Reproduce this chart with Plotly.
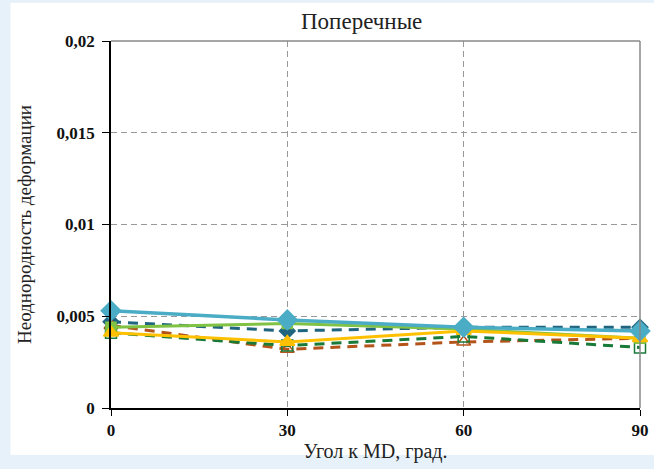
import plotly.graph_objects as go

angles = [0, 30, 60, 90]
blue_solid = [0.0053, 0.0048, 0.0044, 0.0042]
teal_dash = [0.0047, 0.0042, 0.0044, 0.0044]
lgreen_solid = [0.0044, 0.0046, 0.0043, 0.0038]
dgreen_dash = [0.0041, 0.0034, 0.0039, 0.0033]
brown_dash = [0.0045, 0.0032, 0.0036, 0.0038]
yellow_solid = [0.0041, 0.0036, 0.0042, 0.0038]

y_ticks = [0, 0.005, 0.01, 0.015, 0.02]
y_ticklabels = ["0", "0,005", "0,01", "0,015", "0,02"]
x_ticks = [0, 30, 60, 90]

fig = go.Figure()

def add(y, color, dash, symbol, size, name, lw=3, fill=None):
    fig.add_trace(go.Scatter(
        x=angles, y=y, mode="lines+markers", name=name,
        line=dict(color=color, width=lw, dash=dash),
        marker=dict(symbol=symbol, size=size, color=fill if fill else color,
                    line=dict(color=color, width=1.5)),
        showlegend=False, cliponaxis=False))

add(teal_dash, "#1F6580", "10px,7px", "diamond", 12, "s2")
add(brown_dash, "#B4541A", "10px,7px", "triangle-up-open", 12, "s5")
add(dgreen_dash, "#187A38", "10px,7px", "square-open", 11, "s4")
add(lgreen_solid, "#80C244", "solid", "square", 10, "s3")
add(yellow_solid, "#FFC000", "solid", "triangle-up", 13, "s6")
add(blue_solid, "#4BACC6", "solid", "diamond", 15, "s1", lw=3.5)

font = "Liberation Serif"

fig.update_layout(
    width=654, height=469,
    margin=dict(l=111, r=14, t=41, b=61),
    paper_bgcolor="#E6F1FA",
    plot_bgcolor="white",
    title=dict(text="Поперечные", x=0.553, xanchor="center", y=0.955, yanchor="middle",
               font=dict(family=font, size=23, color="#222")),
    font=dict(family=font, color="#111"),
    shapes=[
        dict(type="rect", xref="paper", yref="paper", x0=-0.19, x1=1.1, y0=-0.128, y1=1.104,
             fillcolor="white", line=dict(width=0), layer="below"),
        dict(type="line", xref="paper", yref="paper", x0=0, x1=1, y0=1, y1=1,
             line=dict(color="#888", width=1.5)),
        dict(type="line", xref="paper", yref="paper", x0=1, x1=1, y0=0, y1=1,
             line=dict(color="#888", width=1.5)),
    ],
)

fig.update_xaxes(
    range=[0, 90], tickvals=x_ticks, ticktext=["<b>%d</b>" % v for v in x_ticks],
    showgrid=True, gridcolor="#999", griddash="6px,4px", gridwidth=1,
    showline=True, linecolor="black", linewidth=1.5,
    ticks="outside", ticklen=6, tickcolor="black",
    tickfont=dict(family=font, size=17, color="#111"),
    title=dict(text="Угол к MD, град.", font=dict(family=font, size=20, color="#222"), standoff=5),
    zeroline=False, automargin=False,
)
fig.update_yaxes(
    range=[0, 0.02], tickvals=y_ticks, ticktext=["<b>%s</b>" % t for t in y_ticklabels],
    showgrid=True, gridcolor="#999", griddash="6px,4px", gridwidth=1,
    showline=True, linecolor="black", linewidth=1.5,
    ticks="outside", ticklen=7, tickcolor="black", ticklabelstandoff=4,
    tickfont=dict(family=font, size=17, color="#111"),
    title=dict(text="Неоднородность деформации", font=dict(family=font, size=19, color="#222"), standoff=20),
    zeroline=False, automargin=False,
)

fig.write_html("out.html", post_script="document.body.style.margin='0';",
               config={"displayModeBar": False})
